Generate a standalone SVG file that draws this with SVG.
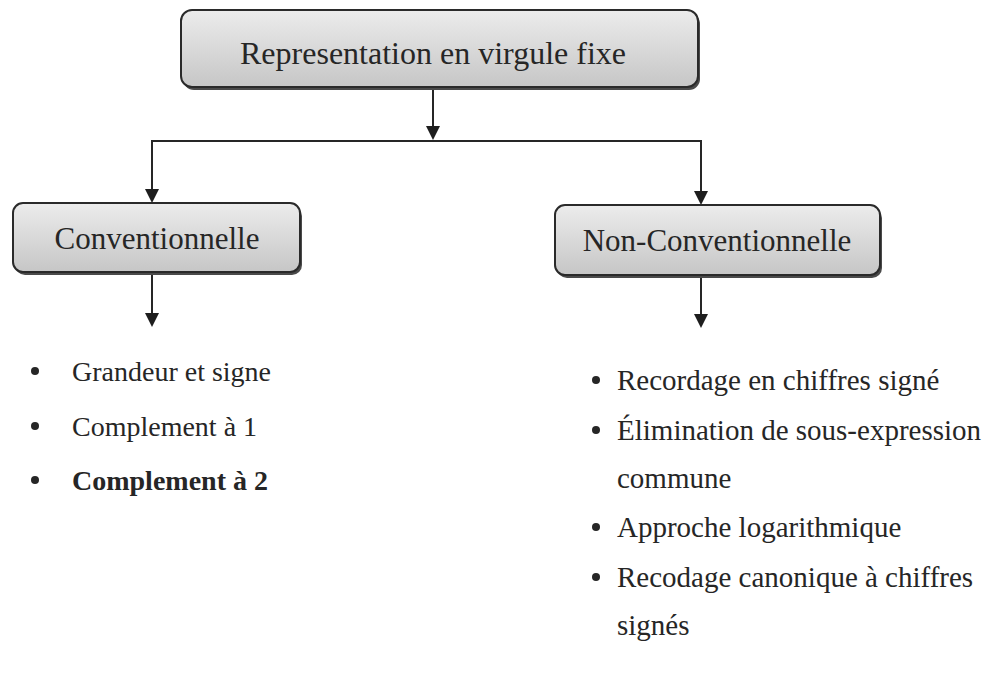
<svg xmlns="http://www.w3.org/2000/svg" width="997" height="684" viewBox="0 0 997 684">
  <style>
    .box { fill: url(#boxFill); stroke: #2a2a2a; stroke-width: 2; }
    .shadow { fill: #4a4a4a; }
    text { font-family: "Liberation Serif", "Times New Roman", serif; fill: #262626; }
    .label { font-size: 31px; text-anchor: middle; }
    .root { font-size: 32px; }
    .item { font-size: 29px; }
    .small { font-size: 28px; }
    .bold { font-weight: bold; }
    .link { stroke: #262626; stroke-width: 2; fill: none; }
    .head { fill: #1e1e1e; }
    .dot { fill: #262626; }
  </style>
  <defs>
    <linearGradient id="boxFill" x1="0" y1="0" x2="0" y2="1">
      <stop offset="0" stop-color="#ececec"/>
      <stop offset="1" stop-color="#c6c6c6"/>
    </linearGradient>
  </defs>

  <rect width="997" height="684" fill="#ffffff"/>

  <!-- connectors -->
  <g id="connectors">
    <line class="link" x1="433" y1="87" x2="433" y2="126"/>
    <path class="head" d="M426,126 L440,126 L433,140 Z"/>
    <polyline class="link" points="152,189 152,141 701,141 701,191"/>
    <path class="head" d="M145,189 L159,189 L152,203 Z"/>
    <path class="head" d="M694,191 L708,191 L701,205 Z"/>
    <line class="link" x1="152" y1="272" x2="152" y2="313"/>
    <path class="head" d="M145,313 L159,313 L152,327 Z"/>
    <line class="link" x1="701" y1="275" x2="701" y2="314"/>
    <path class="head" d="M694,314 L708,314 L701,328 Z"/>
  </g>

  <!-- root node -->
  <g id="node-root">
    <rect class="shadow" x="183" y="13" width="517" height="77" rx="11"/>
    <rect class="box" x="181" y="10" width="517" height="77" rx="11"/>
    <text class="label root" x="433" y="64">Representation en virgule fixe</text>
  </g>

  <!-- conventional branch -->
  <g id="node-conventionnelle">
    <rect class="shadow" x="15" y="206" width="287" height="69" rx="10"/>
    <rect class="box" x="13" y="203" width="287" height="69" rx="10"/>
    <text class="label" x="157" y="249">Conventionnelle</text>
  </g>

  <!-- non-conventional branch -->
  <g id="node-non-conventionnelle">
    <rect class="shadow" x="557" y="208" width="325" height="70" rx="10"/>
    <rect class="box" x="555" y="205" width="325" height="70" rx="10"/>
    <text class="label" x="717" y="251">Non-Conventionnelle</text>
  </g>

  <!-- conventional list -->
  <g id="list-conventionnelle">
    <circle class="dot" cx="35" cy="371" r="4"/>
    <text class="item small" x="72" y="381">Grandeur et signe</text>
    <circle class="dot" cx="35" cy="426" r="4"/>
    <text class="item small" x="72" y="436">Complement à 1</text>
    <circle class="dot" cx="35" cy="480" r="4"/>
    <text class="item small bold" x="72" y="490">Complement à 2</text>
  </g>

  <!-- non-conventional list -->
  <g id="list-non-conventionnelle">
    <circle class="dot" cx="596" cy="380" r="4"/>
    <text class="item" x="617" y="390">Recordage en chiffres signé</text>
    <circle class="dot" cx="596" cy="430" r="4"/>
    <text class="item" x="617" y="440">Élimination de sous-expression</text>
    <text class="item" x="617" y="488">commune</text>
    <circle class="dot" cx="596" cy="527" r="4"/>
    <text class="item" x="617" y="537">Approche logarithmique</text>
    <circle class="dot" cx="596" cy="577" r="4"/>
    <text class="item" x="617" y="587">Recodage canonique à chiffres</text>
    <text class="item" x="617" y="635">signés</text>
  </g>
</svg>
